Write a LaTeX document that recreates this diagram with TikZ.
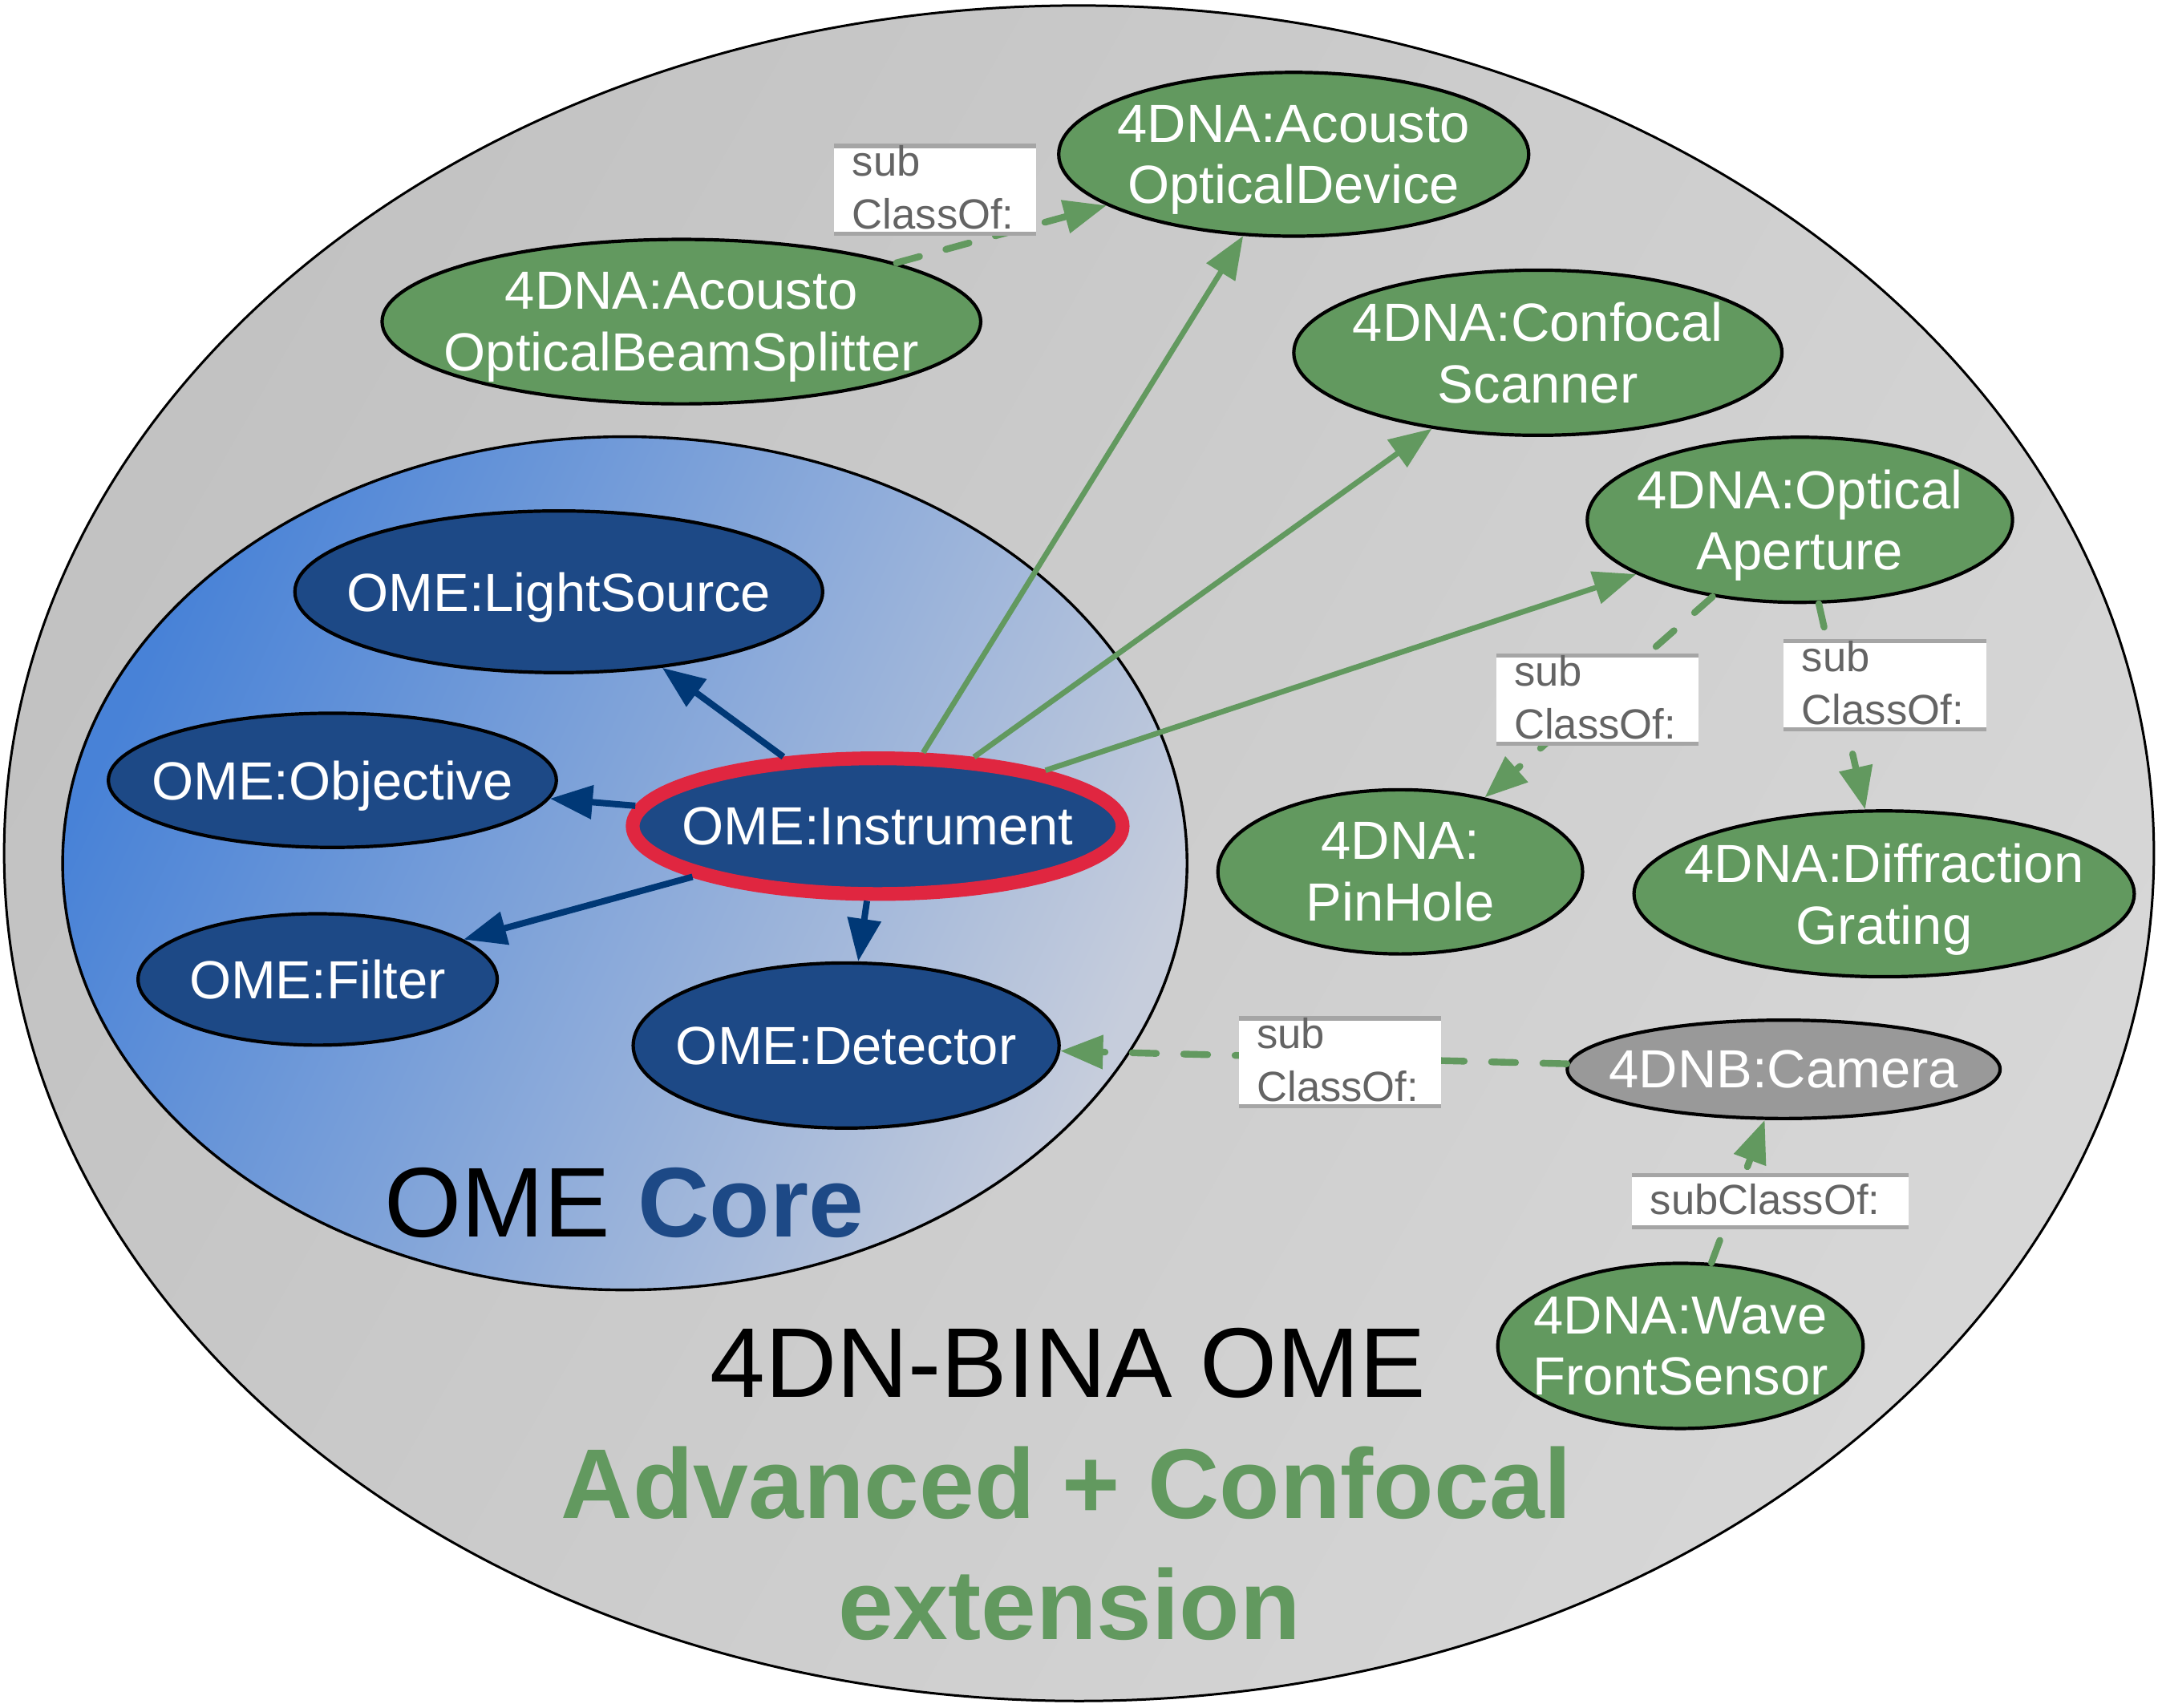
\documentclass[tikz,border=0pt]{standalone}
\usepackage{fontspec}
\setmainfont{Liberation Sans}
\usetikzlibrary{shapes.geometric,arrows.meta,calc}
\definecolor{cgreen}{RGB}{98,153,95}
\definecolor{cblue}{RGB}{29,73,134}
\definecolor{carrowblue}{RGB}{0,56,118}
\definecolor{cred}{RGB}{224,38,64}
\definecolor{ccam}{RGB}{153,153,153}
\definecolor{lblgray}{RGB}{165,165,165}
\definecolor{ctextgray}{RGB}{100,100,100}
\definecolor{outerA}{RGB}{194,194,194}
\definecolor{outerB}{RGB}{215,215,215}
\definecolor{coreA}{RGB}{72,130,215}
\definecolor{coreB}{RGB}{198,205,220}
\tikzset{
  sz/.style 2 args={minimum width=#1*0.42905pt, minimum height=#2*0.42905pt},
  ell/.style={ellipse, draw=black, line width=1.05pt, inner sep=0pt},
  gnd/.style={ell, fill=cgreen},
  bnd/.style={ell, fill=cblue},
  ntext/.style={text=white, font=\fontsize{16.75pt}{19.2pt}\selectfont, align=center, text depth=0pt, inner sep=0pt},
  barrow/.style={draw=carrowblue, line width=2pt, -{Triangle[length=13.3pt,width=10.2pt]}},
  garrow/.style={draw=cgreen, line width=1.7pt, -{Triangle[length=13.3pt,width=10.2pt]}},
  gdash/.style={garrow, line width=2.1pt, line cap=round, dash pattern=on 7.5pt off 8.5pt},
  lblbox/.style={fill=white, draw=none, inner sep=0pt, outer sep=0pt},
  lblrule/.style={draw=lblgray, line width=1.3pt},
  lbltext/.style={text=ctextgray, font=\fontsize{13.15pt}{16.5pt}\selectfont, align=left, text depth=0pt, inner sep=0pt},
  bigtext/.style={font=\fontsize{30.9pt}{36pt}\selectfont, anchor=base, inner sep=0pt},
}
\begin{document}
\begin{tikzpicture}[x=0.42905pt,y=-0.42905pt]
\useasboundingbox (0,0) rectangle (1568,1241);
% outer and core regions
\node[ellipse, draw=black, line width=0.75pt, left color=outerA, right color=outerB, shading angle=60, sz={1562}{1232}] (outer) at (784,620) {};
\node[ellipse, draw=black, line width=0.85pt, left color=coreA, right color=coreB, shading angle=65, sz={817}{620}] (corereg) at (454,627.3) {};

% OME core nodes
\node[bnd, sz={383.5}{117.5}] (ls) at (406,430) {};
\node[ntext] at (ls) {OME:LightSource};
\node[bnd, sz={325.5}{97.5}] (obj) at (241.5,567) {};
\node[ntext] at (obj) {OME:Objective};
\node[bnd, sz={261}{95.5}] (filt) at (230.8,711.7) {};
\node[ntext] at (filt) {OME:Filter};
\node[bnd, sz={309.5}{120}] (det) at (614.8,759.7) {};
\node[ntext] at (det) {OME:Detector};
\node[ell, draw=cred, line width=4.3pt, fill=cblue, sz={356}{98.6}] (inst) at (637.7,600.3) {};
\node[ntext] at (inst) {OME:Instrument};

% extension nodes
\node[gnd, sz={341.5}{119}] (aod) at (940,112.1) {};
\node[ntext] at (aod) {4DNA:Acousto\\OpticalDevice};
\node[gnd, sz={435}{119.5}] (bs) at (495.1,233.7) {};
\node[ntext] at (bs) {4DNA:Acousto\\OpticalBeamSplitter};
\node[gnd, sz={354.7}{120}] (cs) at (1117.4,256.3) {};
\node[ntext] at (cs) {4DNA:Confocal\\Scanner};
\node[gnd, sz={309}{120}] (oa) at (1307.8,377.7) {};
\node[ntext] at (oa) {4DNA:Optical\\Aperture};
\node[gnd, sz={265}{119.3}] (ph) at (1017.4,633.5) {};
\node[ntext] at (ph) {4DNA:\\PinHole};
\node[gnd, sz={363.5}{120.5}] (dg) at (1369,649.5) {};
\node[ntext] at (dg) {4DNA:Diffraction\\Grating};
\node[ell, fill=ccam, sz={314.5}{71.5}] (cam) at (1296,777) {};
\node[ntext] at (cam) {4DNB:Camera};
\node[gnd, sz={265.5}{120}] (wfs) at (1221,978) {};
\node[ntext] at (wfs) {4DNA:Wave\\FrontSensor};

% connectors
\draw[barrow] (inst) -- (ls);
\draw[barrow] (inst) -- (obj);
\draw[barrow] (inst) -- (filt);
\draw[barrow] (inst) -- (det);
\draw[garrow] (inst) -- (aod);
\draw[garrow] (inst) -- (cs);
\draw[garrow] (inst) -- (oa);
\draw[gdash] (bs) -- (aod);
\draw[gdash] (oa) -- (ph);
\draw[gdash] (oa) -- (dg);
\draw[gdash] (cam) -- (det);
\draw[gdash] (wfs) -- (cam);

% labels
\node[lblbox, sz={147}{64}, anchor=north west] (l1) at (606,106) {};
\draw[lblrule] (l1.north west) -- (l1.north east) (l1.south west) -- (l1.south east);
\node[lbltext, anchor=south west] (l1t) at ($(l1.north west)+(12.8,60.8)$) {sub\\ClassOf:};

\node[lblbox, sz={147}{64}, anchor=north west] (l2) at (1087,476.5) {};
\draw[lblrule] (l2.north west) -- (l2.north east) (l2.south west) -- (l2.south east);
\node[lbltext, anchor=south west] (l2t) at ($(l2.north west)+(12.8,60.8)$) {sub\\ClassOf:};

\node[lblbox, sz={147}{64}, anchor=north west] (l3) at (1296,466) {};
\draw[lblrule] (l3.north west) -- (l3.north east) (l3.south west) -- (l3.south east);
\node[lbltext, anchor=south west] (l3t) at ($(l3.north west)+(12.8,60.8)$) {sub\\ClassOf:};

\node[lblbox, sz={147}{64}, anchor=north west] (l4) at (900,740) {};
\draw[lblrule] (l4.north west) -- (l4.north east) (l4.south west) -- (l4.south east);
\node[lbltext, anchor=south west] (l4t) at ($(l4.north west)+(12.8,60.8)$) {sub\\ClassOf:};

\node[lblbox, sz={201}{38}, anchor=north west] (l5) at (1186,854) {};
\draw[lblrule] (l5.north west) -- (l5.north east) (l5.south west) -- (l5.south east);
\node[lbltext, anchor=south west] (l5t) at ($(l5.north west)+(12.6,29)$) {subClassOf:};

% titles
\node[bigtext] (coret) at (453.5,899) {OME \textbf{\textcolor{cblue}{Core}}};
\node[bigtext] (binat) at (776,1015.5) {4DN-BINA OME};
\node[bigtext, text=cgreen, font=\fontsize{30.9pt}{36pt}\selectfont\bfseries] (advt) at (775,1103) {Advanced + Confocal};
\node[bigtext, text=cgreen, font=\fontsize{30.9pt}{36pt}\selectfont\bfseries] (extt) at (777,1191.5) {extension};
\end{tikzpicture}
\end{document}
